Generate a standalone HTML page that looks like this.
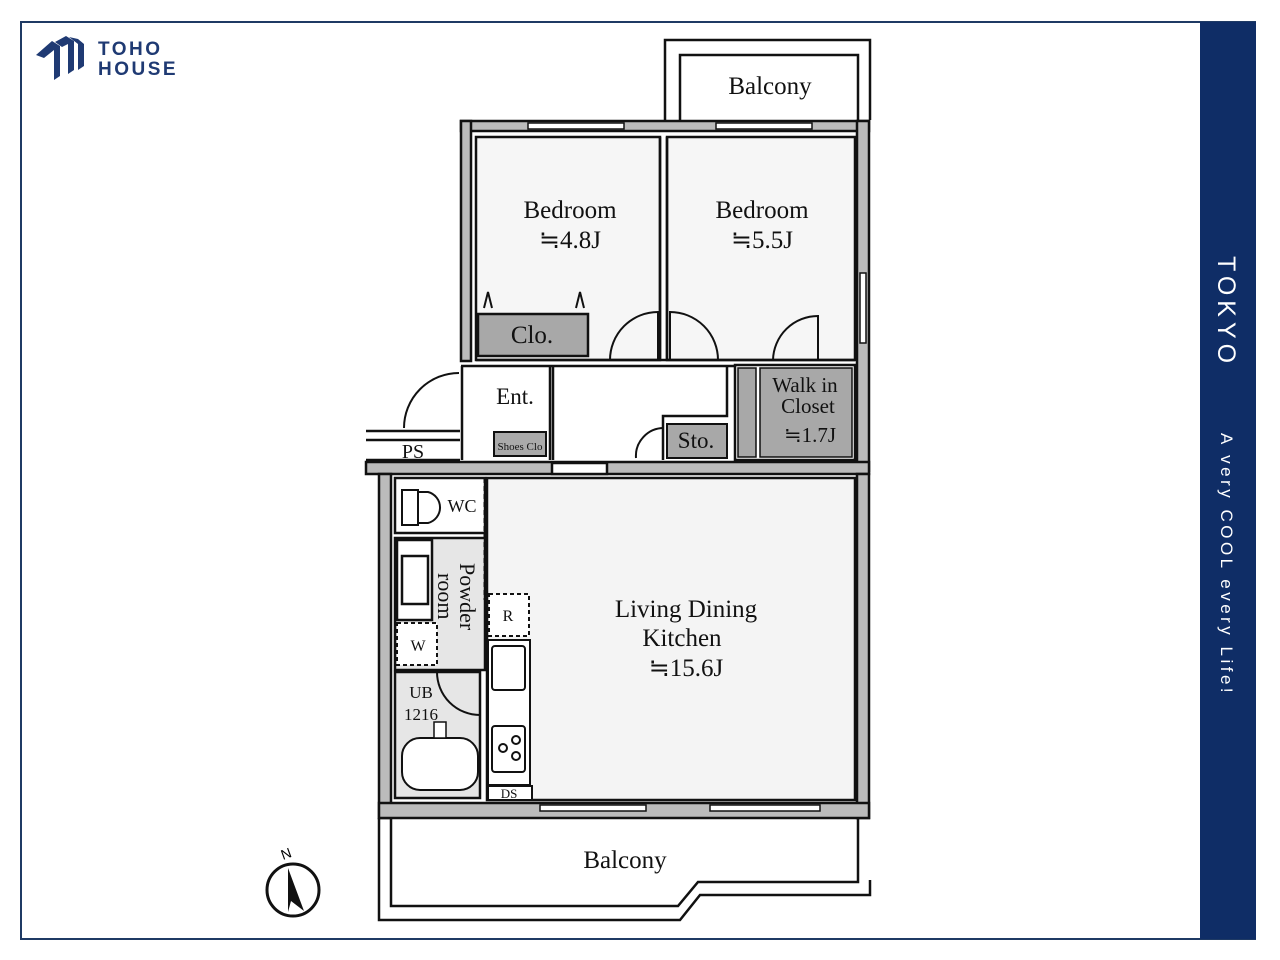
<!DOCTYPE html>
<html><head><meta charset="utf-8"><style>
html,body{margin:0;padding:0;background:#fff;}
svg{display:block}
</style></head><body>
<svg width="1280" height="960" viewBox="0 0 1280 960" xmlns="http://www.w3.org/2000/svg" font-family="Liberation Serif, serif">
<rect x="0" y="0" width="1280" height="960" fill="#fff"/>
<rect x="21" y="22" width="1234" height="917" fill="none" stroke="#1f3a64" stroke-width="2"/>
<rect x="1200" y="22" width="56" height="917" fill="#0f2d66"/>
<text transform="translate(1218,256) rotate(90)" fill="#fff" font-family="Liberation Sans, sans-serif" font-size="25" letter-spacing="5">TOKYO</text>
<text transform="translate(1221,433) rotate(90)" fill="#fff" font-family="Liberation Sans, sans-serif" font-size="17" letter-spacing="3.5">A very COOL every Life!</text>
<!-- logo -->
<g fill="#1f3a73">
<polygon points="36,55 52,41 60,46 60,76 54,80 54,50 44,58"/>
<polygon points="55,42 66,36 74,41 74,70 68,74 68,44 62,47"/>
<polygon points="69,37 78,39 84,44 84,66 78,70 78,44"/>
</g>
<text x="98" y="55" font-family="Liberation Sans, sans-serif" font-size="19" font-weight="bold" fill="#1f3a73" letter-spacing="2.5">TOHO</text>
<text x="98" y="75" font-family="Liberation Sans, sans-serif" font-size="19" font-weight="bold" fill="#1f3a73" letter-spacing="2.5">HOUSE</text>

<g stroke="#111" stroke-width="2.5" fill="none">
<path d="M665,120 V40 H870 V120" />
<path d="M680,120 V55 H858 V120" />
<rect x="461" y="121" width="408" height="10" fill="#bbb"/>
<rect x="461" y="121" width="10" height="240" fill="#bbb"/>
<rect x="857" y="121" width="12" height="350" fill="#bbb"/>
<rect x="476" y="137" width="184" height="223" fill="#f6f6f6"/>
<rect x="667" y="137" width="188" height="223" fill="#f6f6f6"/>
<line x1="660" y1="137" x2="660" y2="360"/><line x1="667" y1="137" x2="667" y2="360"/>
<line x1="476" y1="360" x2="855" y2="360"/><line x1="461" y1="366" x2="735" y2="366"/>
<rect x="478" y="314" width="110" height="42" fill="#a8a8a8"/>
<path d="M484,308 L488,292 L492,308 M576,308 L580,292 L584,308" stroke-width="2"/>
<path d="M610,360 A48,48 0 0 1 658,312 V360" stroke-width="2"/>
<path d="M670,360 V312 A48,48 0 0 1 718,360" stroke-width="2"/>
<path d="M773,360 A45,45 0 0 1 818,316 V360" stroke-width="2"/>
<path d="M404,428 A55,55 0 0 1 459,373" stroke-width="2"/>
<path d="M636,458 A28,28 0 0 1 664,428" stroke-width="2"/>
<line x1="462" y1="366" x2="462" y2="460"/>
<line x1="550" y1="366" x2="550" y2="460"/>
<line x1="553" y1="366" x2="553" y2="460"/>
<path d="M727,366 V416 H663 V460"/>
<rect x="494" y="432" width="52" height="24" fill="#aaa" stroke-width="2"/>
<rect x="667" y="424" width="60" height="34" fill="#a8a8a8" stroke-width="2"/>
<rect x="735" y="365" width="120" height="95" fill="#fff"/>
<rect x="738" y="368" width="18" height="89" fill="#a8a8a8" stroke-width="1.5"/>
<rect x="760" y="368" width="92" height="89" fill="#a8a8a8" stroke-width="1.5"/>
<path d="M366,431 H460 M366,440 H460 M366,460 H460"/>
<rect x="366" y="462" width="503" height="12" fill="#bbb"/>
<rect x="552" y="463" width="55" height="11" fill="#fff"/>
<rect x="379" y="474" width="12" height="344" fill="#bbb"/>
<rect x="857" y="474" width="12" height="344" fill="#bbb"/>
<rect x="379" y="803" width="490" height="15" fill="#bbb"/>
<rect x="487" y="478" width="368" height="322" fill="#f4f4f4"/>
<rect x="395" y="478" width="90" height="55" fill="#fff"/>
<rect x="395" y="538" width="90" height="132" fill="#e6e6e6"/>
<rect x="397" y="540" width="35" height="80" fill="#fff"/>
<rect x="402" y="556" width="26" height="48" fill="#fff"/>
<rect x="397" y="623" width="40" height="42" fill="#fff" stroke-dasharray="4,3" stroke-width="2"/>
<rect x="395" y="672" width="85" height="126" fill="#e6e6e6"/>
<path d="M437,672 A43,43 0 0 0 480,715" stroke-width="2"/>
<rect x="402" y="738" width="76" height="52" rx="18" fill="#fff" stroke-width="2"/>
<rect x="434" y="722" width="12" height="16" fill="#fff" stroke-width="1.5"/>
<path d="M402,490 H418 V525 H402 Z" stroke-width="2"/>
<path d="M418,492 H428 A16,16 0 0 1 428,523 H418" stroke-width="2"/>
<line x1="485" y1="478" x2="485" y2="600" stroke-width="3" stroke-dasharray="5,3"/>
<rect x="489" y="594" width="40" height="42" fill="#fff" stroke-dasharray="4,3" stroke-width="2"/>
<rect x="488" y="640" width="42" height="145" fill="#fff" stroke-width="2"/>
<rect x="492" y="646" width="33" height="44" rx="3" stroke-width="2"/>
<rect x="492" y="726" width="33" height="46" rx="3" stroke-width="2"/>
<circle cx="503" cy="748" r="4" stroke-width="2"/><circle cx="516" cy="740" r="4" stroke-width="2"/><circle cx="516" cy="756" r="4" stroke-width="2"/>
<rect x="488" y="786" width="44" height="14" fill="#fff" stroke-width="2"/>
<path d="M379,818 V920 H680 L700,895 H870 V880"/>
<path d="M391,818 V906 H678 L698,882 H858 V818"/>
</g>
<g fill="#fff" stroke="#111" stroke-width="1.5">
<rect x="528" y="123" width="96" height="6"/><rect x="716" y="123" width="96" height="6"/>
<rect x="860" y="273" width="6" height="70"/>
<rect x="540" y="805" width="106" height="6"/><rect x="710" y="805" width="110" height="6"/>
</g>
<g fill="#111" font-size="25" text-anchor="middle">
<text x="770" y="94">Balcony</text>
<text x="570" y="218">Bedroom</text><text x="570" y="248">≒4.8J</text>
<text x="762" y="218">Bedroom</text><text x="762" y="248">≒5.5J</text>
<text x="532" y="343">Clo.</text>
<text x="515" y="404" font-size="23">Ent.</text>
<text x="696" y="448" font-size="23">Sto.</text>
<text x="805" y="392" font-size="21">Walk in</text>
<text x="808" y="413" font-size="21">Closet</text>
<text x="810" y="442" font-size="21">≒1.7J</text>
<text x="413" y="458" font-size="20">PS</text>
<text x="520" y="450" font-size="11">Shoes Clo</text>
<text x="462" y="512" font-size="18">WC</text>
<text x="418" y="651" font-size="16">W</text>
<text x="508" y="621" font-size="16">R</text>
<text x="421" y="698" font-size="17">UB</text>
<text x="421" y="720" font-size="17">1216</text>
<text x="509" y="798" font-size="13">DS</text>
<text x="686" y="617">Living Dining</text>
<text x="682" y="646">Kitchen</text>
<text x="686" y="676">≒15.6J</text>
<text x="625" y="868">Balcony</text>
<text transform="translate(460,563) rotate(90)" text-anchor="start" font-size="22">Powder</text>
<text transform="translate(438,573) rotate(90)" text-anchor="start" font-size="22">room</text>
</g>
<circle cx="293" cy="890" r="26" fill="#fff" stroke="#111" stroke-width="3"/>
<polygon points="288,868 304,911 291,901 288,912" fill="#111"/>
<text x="283" y="860" font-size="14" font-family="Liberation Sans, sans-serif" transform="rotate(-20,283,860)">N</text>
</svg>
</body></html>
